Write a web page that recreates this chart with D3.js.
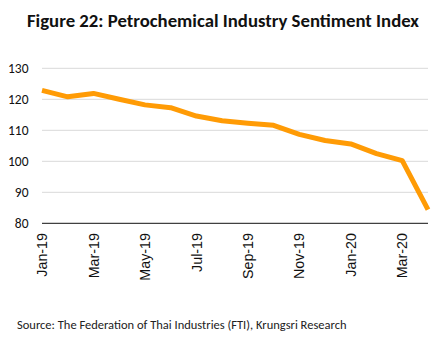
<!DOCTYPE html>
<html>
<head>
<meta charset="utf-8">
<script src="https://cdn.jsdelivr.net/npm/d3@7"></script>
<style>
  body { margin: 0; background: #fff; }
  svg { display: block; }
</style>
</head>
<body>
<div class="container"></div>
<script>
// monthly sentiment index, Jan-19 .. Apr-20
var months = ["Jan-19","Feb-19","Mar-19","Apr-19","May-19","Jun-19","Jul-19","Aug-19",
              "Sep-19","Oct-19","Nov-19","Dec-19","Jan-20","Feb-20","Mar-20","Apr-20"];
var sentiment = [122.9, 120.8, 121.9, 120.0, 118.2, 117.3, 114.6, 113.1,
                 112.3, 111.6, 108.7, 106.7, 105.6, 102.5, 100.2, 84.4];
var yTicks = [80, 90, 100, 110, 120, 130];
var xLabels = ["Jan-19","Mar-19","May-19","Jul-19","Sep-19","Nov-19","Jan-20","Mar-20"];

const width = 446, height = 340;
const plotLeft = 42, plotRight = 428, plotTop = 68.3, plotBottom = 223.3;

const svg = d3.select('.container')
  .append('svg')
  .attr('width', width)
  .attr('height', height)
  .style('font-family', 'Calibri, Carlito, "Open Sans", sans-serif');

const x = d3.scalePoint().domain(months).range([plotLeft, plotRight]);
const y = d3.scaleLinear().domain([80, 130]).range([plotBottom, plotTop]);

// shrink/grow font so a text fits a given width
function fitWidth(sel, w) {
  const fs = parseFloat(sel.attr('font-size'));
  const len = sel.node().getComputedTextLength();
  sel.attr('font-size', fs * w / len);
}

svg.append('text')
  .attr('x', 223).attr('y', 26.5)
  .attr('text-anchor', 'middle')
  .attr('font-weight', 'bold')
  .attr('font-size', 17)
  .attr('fill', '#111')
  .text('Figure 22: Petrochemical Industry Sentiment Index')
  .call(fitWidth, 392);

// gridlines
svg.append('g')
  .selectAll('line')
  .data(yTicks.filter(d => d > 80))
  .join('line')
  .attr('x1', plotLeft).attr('x2', plotRight)
  .attr('y1', d => y(d)).attr('y2', d => y(d))
  .attr('stroke', '#d9d9d9')
  .attr('stroke-width', 1);

// y axis labels
svg.append('g')
  .attr('font-size', 13.5)
  .attr('fill', '#111')
  .selectAll('text')
  .data(yTicks)
  .join('text')
  .attr('x', 28.5)
  .attr('y', d => y(d))
  .attr('dy', '0.35em')
  .attr('text-anchor', 'end')
  .text(d => d);

// x axis
svg.append('line')
  .attr('x1', plotLeft).attr('x2', plotRight)
  .attr('y1', plotBottom).attr('y2', plotBottom)
  .attr('stroke', '#404040')
  .attr('stroke-width', 1.2);

const xl = svg.append('g')
  .attr('font-family', '"Liberation Sans", Arial, sans-serif')
  .attr('font-size', 14.3)
  .attr('fill', '#111')
  .selectAll('text')
  .data(xLabels)
  .join('text')
  .attr('transform', d => `translate(${x(d)},233) rotate(-90)`)
  .attr('dy', '0.36em')
  .attr('text-anchor', 'end')
  .text(d => d);

// index line
svg.append('path')
  .datum(sentiment)
  .attr('fill', 'none')
  .attr('stroke', '#ff9b05')
  .attr('stroke-width', 5)
  .attr('stroke-linejoin', 'round')
  .attr('d', d3.line()
    .x((d, i) => x(months[i]))
    .y(d => y(d)));

svg.append('text')
  .attr('x', 17).attr('y', 328.5)
  .attr('font-size', 11.5)
  .attr('fill', '#222')
  .text('Source: The Federation of Thai Industries (FTI), Krungsri Research')
  .call(fitWidth, 330);
</script>
</body>
</html>
